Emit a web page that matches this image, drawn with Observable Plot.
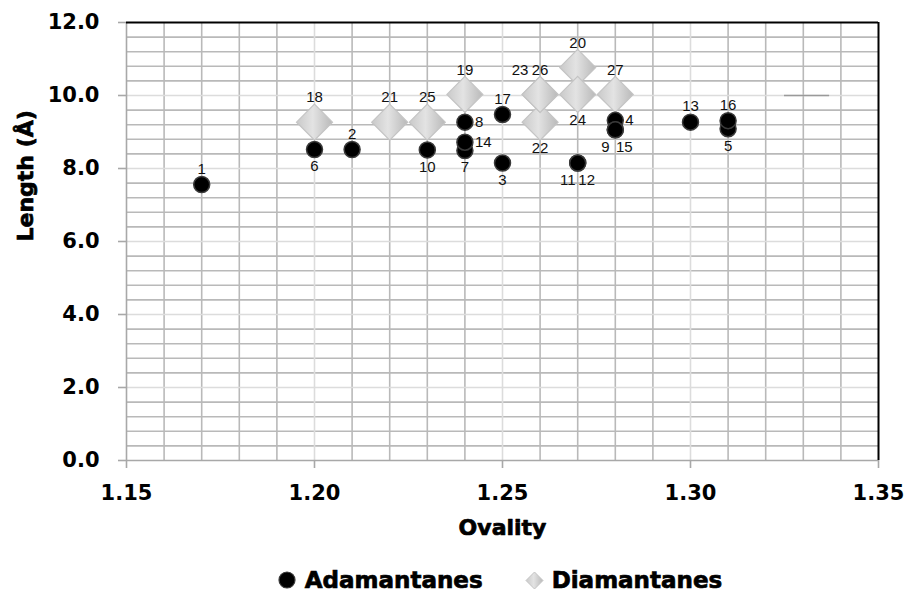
<!DOCTYPE html>
<html><head><meta charset="utf-8">
<script src="https://cdn.jsdelivr.net/npm/d3@7"></script>
<script src="https://cdn.jsdelivr.net/npm/@observablehq/plot@0.6"></script>
<style>
body{margin:0;background:#fff;}
#legend{display:flex;justify-content:center;align-items:center;padding-left:94px;height:30px;margin-top:15px;font:bold 23px "DejaVu Sans",sans-serif;color:#000;-webkit-text-stroke:0.7px #000;}
#legend .item{display:flex;align-items:center;}
#legend svg{display:block;}
</style></head><body>
<div id="chart"></div>
<div id="legend">
  <div class="item"><svg width="18" height="18"><circle cx="9" cy="9" r="8" fill="#000" stroke="#3a3a3a" stroke-width="1.2"/></svg><span style="margin-left:9px">Adamantanes</span></div>
  <div class="item" style="margin-left:42px"><svg width="19" height="19"><defs><linearGradient id="lg"><stop offset="0" stop-color="#c9c9c9"/><stop offset="0.45" stop-color="#e3e3e3"/><stop offset="1" stop-color="#b9b9b9"/></linearGradient></defs><path d="M9.5,1 L18,9.5 L9.5,18 L1,9.5 Z" fill="url(#lg)" stroke="#c4c4c4"/></svg><span style="margin-left:8px">Diamantanes</span></div>
</div>
<script>
// Adamantanes (compounds 1-17)
const adamantaneIds = ["1","2","3","4","5","6","7","8","9","10","11","12","13","14","15","16","17"];
const adamantaneOvality = [1.17,1.21,1.25,1.28,1.31,1.20,1.24,1.24,1.28,1.23,1.27,1.27,1.30,1.24,1.28,1.31,1.25];
const adamantaneLength = [7.56,8.52,8.15,9.32,9.09,8.52,8.49,9.27,9.06,8.51,8.15,8.15,9.27,8.72,9.06,9.31,9.48];
const adamantaneLabelPos = ["t","t","b","r","b","b","b","r","bl","b","bl","br","t","r","br","t","t"];

// Diamantanes (compounds 18-27)
const diamantaneIds = ["18","19","20","21","22","23","24","25","26","27"];
const diamantaneOvality = [1.20,1.24,1.27,1.22,1.26,1.26,1.27,1.23,1.26,1.28];
const diamantaneLength = [9.27,10.03,10.77,9.27,9.27,10.03,10.03,9.27,10.03,10.03];
const diamantaneLabelPos = ["t","t","t","t","b","tl","b","t","t","t"];

const xTicks = [1.15,1.20,1.25,1.30,1.35];
const yTicks = [0,2,4,6,8,10,12];

// stray grey segment visible in the original
const strayX = [1.325,1.337];
const strayY = 10.0;

const adamantanes = adamantaneIds.map((id,i)=>({id, x:adamantaneOvality[i], y:adamantaneLength[i], pos:adamantaneLabelPos[i]}));
const diamantanes = diamantaneIds.map((id,i)=>({id, x:diamantaneOvality[i], y:diamantaneLength[i], pos:diamantaneLabelPos[i]}));

const xMinor = d3.range(0,21).map(i => +(1.15 + i*0.01).toFixed(2)).filter(v => !xTicks.includes(v));
const yMinor = d3.range(0,31).map(i => +(i*0.4).toFixed(1)).filter(v => !yTicks.includes(v));

const heavy = {fontFamily:"DejaVu Sans, sans-serif", fontWeight:"bold", stroke:"#000", strokeWidth:0.7, fill:"#000"};
const tickFont = {...heavy, fontSize:21};
const labelFont = {fontFamily:"Liberation Sans Narrow, Liberation Sans, Arial, sans-serif", fontSize:15, fill:"#111"};

const circleOffsets = {t:{dx:0,dy:-15.5}, b:{dx:0,dy:17}, r:{dx:10,dy:0,textAnchor:"start"}, bl:{dx:-10,dy:17}, br:{dx:9,dy:17}};
const diamondOffsets = {t:{dx:0,dy:-24.5}, b:{dx:0,dy:26}, tl:{dx:-20,dy:-24.5}};

const labelMarks = [];
for (const [k,o] of Object.entries(diamondOffsets)) {
  labelMarks.push(Plot.text(diamantanes.filter(d=>d.pos===k), {x:"x", y:"y", text:"id", ...o, ...labelFont}));
}
for (const [k,o] of Object.entries(circleOffsets)) {
  labelMarks.push(Plot.text(adamantanes.filter(d=>d.pos===k), {x:"x", y:"y", text:"id", ...o, ...labelFont}));
}

const chart = Plot.plot({
  width: 906,
  height: 550,
  marginLeft: 126,
  marginRight: 28,
  marginTop: 22,
  marginBottom: 90,
  x: {domain:[1.15,1.35], axis:null},
  y: {domain:[0,12], axis:null},
  style: {background:"#fff", overflow:"visible"},
  marks: [
    Plot.ruleX(xMinor, {stroke:"#b9b9b9", strokeWidth:1.6}),
    Plot.ruleY(yMinor, {stroke:"#b9b9b9", strokeWidth:1.6}),
    Plot.ruleX(xTicks.slice(1,-1), {stroke:"#dcdcdc", strokeWidth:1.6}),
    Plot.ruleY(yTicks.slice(1,-1), {stroke:"#dcdcdc", strokeWidth:1.6}),
    Plot.ruleY([strayY], {x1:strayX[0], x2:strayX[1], stroke:"#9a9a9a", strokeWidth:1.6}),
    Plot.ruleX([1.15], {stroke:"#a8a8a8", strokeWidth:1.6}),
    Plot.ruleY([0], {stroke:"#a8a8a8", strokeWidth:1.6}),
    Plot.ruleY([12], {stroke:"#000", strokeWidth:2}),
    Plot.ruleX([1.35], {stroke:"#000", strokeWidth:2}),
    Plot.axisX({ticks:xTicks, tickSize:8, tickFormat:()=>"", color:"#a8a8a8", strokeWidth:1.6, label:null}),
    Plot.axisY({ticks:yTicks, tickSize:8, tickFormat:()=>"", color:"#a8a8a8", strokeWidth:1.6, label:null}),
    Plot.axisX({ticks:xTicks, tickSize:0, tickPadding:25, tickFormat:d3.format(".2f"), label:null, ...tickFont}),
    Plot.axisY({ticks:yTicks, tickSize:0, tickPadding:27, tickFormat:d3.format(".1f"), label:null, ...tickFont}),
    Plot.text(["Ovality"], {text:d=>d, frameAnchor:"bottom", dy:67, lineAnchor:"middle", ...heavy, fontSize:22}),
    Plot.text(["Length (Å)"], {text:d=>d, frameAnchor:"left", dx:-101, rotate:-90, lineAnchor:"middle", ...heavy, fontSize:22}),
    Plot.dot(diamantanes, {x:"x", y:"y", symbol:"diamond2", r:16.2, fill:"url(#dg)", stroke:"#c4c4c4", strokeWidth:1.2}),
    Plot.dot(adamantanes, {x:"x", y:"y", r:8, fill:"#000", stroke:"#3a3a3a", strokeWidth:1.5}),
    ...labelMarks
  ]
});

const defs = d3.create("svg:defs");
const g = defs.append("linearGradient").attr("id","dg");
g.append("stop").attr("offset","0").attr("stop-color","#c9c9c9");
g.append("stop").attr("offset","0.45").attr("stop-color","#e3e3e3");
g.append("stop").attr("offset","1").attr("stop-color","#b9b9b9");
chart.insertBefore(defs.node(), chart.firstChild);

document.getElementById("chart").appendChild(chart);
</script>
</body></html>
